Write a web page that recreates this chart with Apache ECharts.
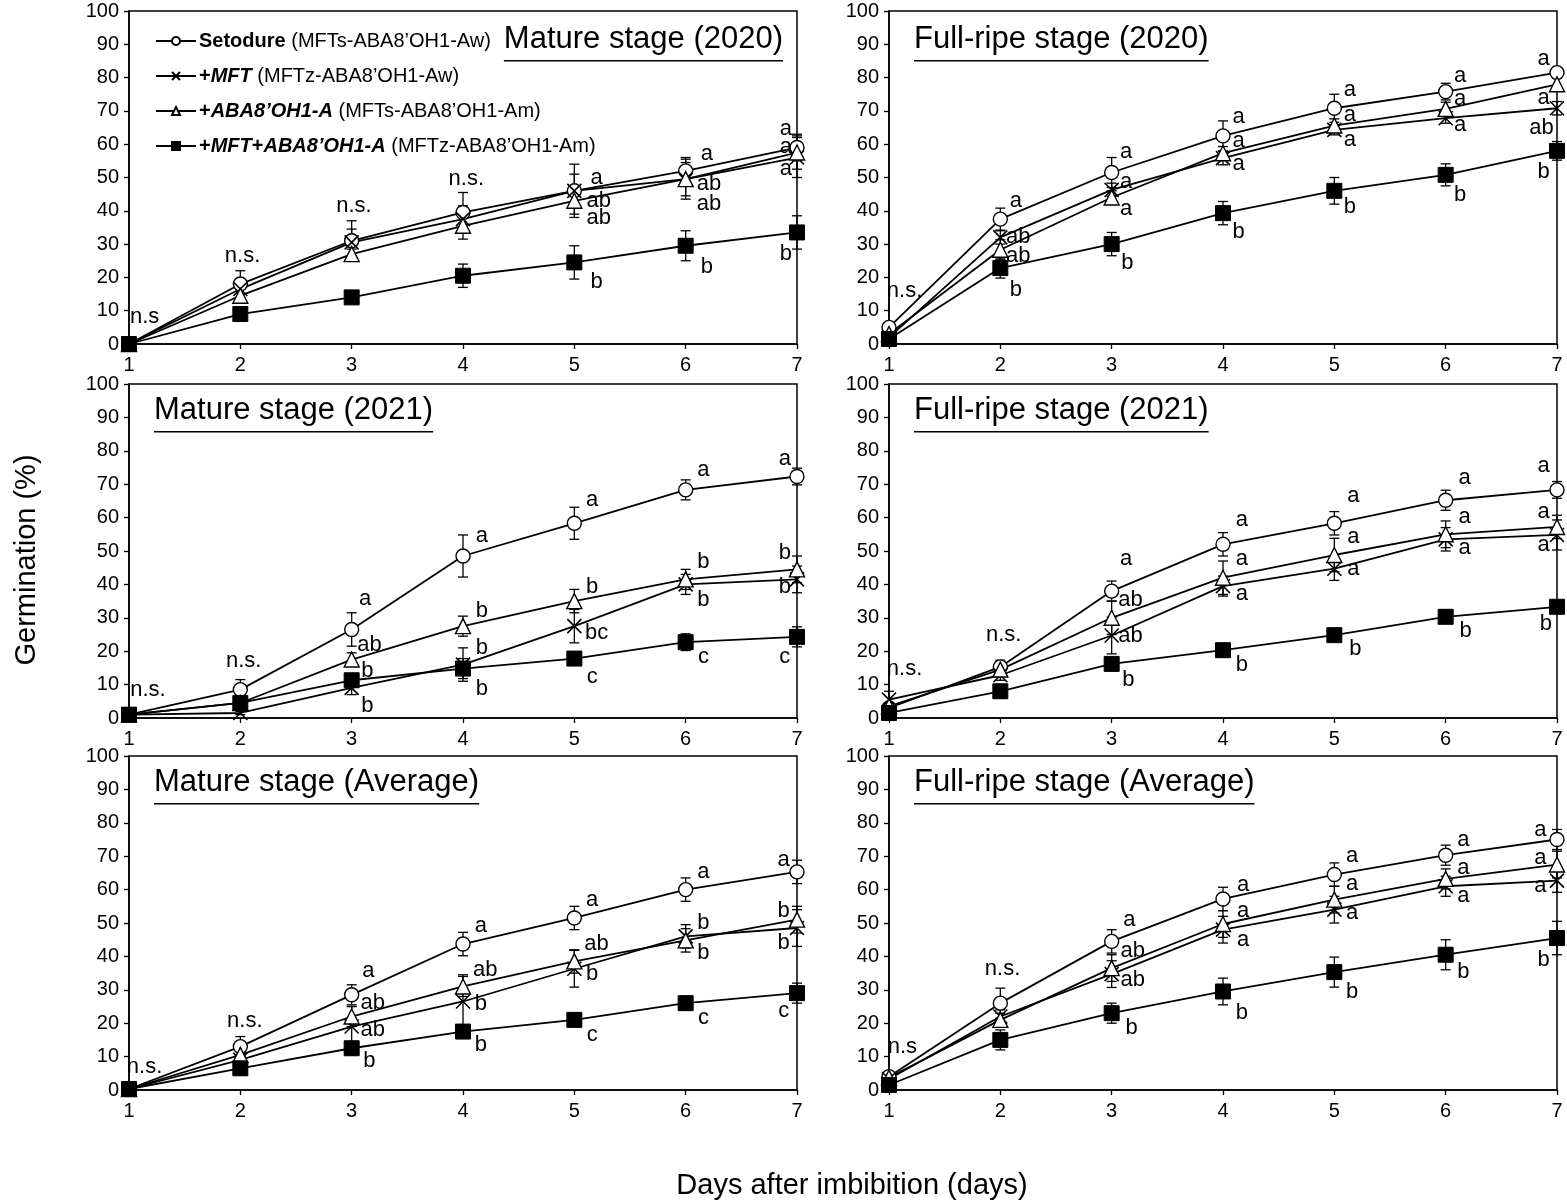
<!DOCTYPE html>
<html><head><meta charset="utf-8">
<script src="https://cdn.jsdelivr.net/npm/echarts@6/dist/echarts.min.js"></script>
<style>html,body{margin:0;padding:0;background:#fff}#c{width:1567px;height:1204px}</style>
</head><body><div id="c"></div>
<script>
// ---------------- DATA ----------------
const days = [1, 2, 3, 4, 5, 6, 7];
const seriesNames = ['Setodure', '+MFT', '+ABA8’OH1-A', '+MFT+ABA8’OH1-A'];
const legendLabels = {
  'Setodure': '{b|Setodure} {n|(MFTs-ABA8’OH1-Aw)}',
  '+MFT': '{b|+}{bi|MFT} {n|(MFTz-ABA8’OH1-Aw)}',
  '+ABA8’OH1-A': '{b|+}{bi|ABA8’OH1-A} {n|(MFTs-ABA8’OH1-Am)}',
  '+MFT+ABA8’OH1-A': '{b|+}{bi|MFT}{b|+}{bi|ABA8’OH1-A} {n|(MFTz-ABA8’OH1-Am)}'
};
const panelTitles = ['Mature stage (2020)', 'Full-ripe stage (2020)', 'Mature stage (2021)',
  'Full-ripe stage (2021)', 'Mature stage (Average)', 'Full-ripe stage (Average)'];
const xAxisTitle = 'Days after imbibition (days)';
const yAxisTitle = 'Germination (%)';

// Mature stage (2020)
const m20_seto = [0, 18, 31, 39.5, 46, 52, 59];
const m20_seto_err = [0, 4, 6, 6, 8, 4, 4];
const m20_mft = [0, 16.5, 30.5, 37.5, 46, 49.5, 56];
const m20_mft_err = [0, 3, 4, 4, 5, 5, 6];
const m20_aba = [0, 14.5, 27, 35.5, 43, 49.5, 57.5];
const m20_aba_err = [0, 2, 1.5, 4, 4, 6, 5];
const m20_both = [0, 9, 14, 20.5, 24.5, 29.5, 33.5];
const m20_both_err = [0, 1, 1, 3.5, 5, 4.5, 5];
const m20_ann = [[1.14, 8, 'n.s'], [2.02, 26.5, 'n.s.'], [3.02, 41.5, 'n.s.'], [4.03, 49.5, 'n.s.'],
  [5.2, 50, 'a'], [5.22, 43, 'ab'], [5.22, 38, 'ab'], [5.2, 18.5, 'b'],
  [6.19, 57, 'a'], [6.21, 48, 'ab'], [6.21, 42, 'ab'], [6.19, 23, 'b'],
  [6.9, 64.7, 'a'], [6.9, 59.3, 'a'], [6.9, 52.5, 'a'], [6.9, 27, 'b']];

// Full-ripe stage (2020)
const f20_seto = [5, 37.5, 51.5, 62.5, 70.8, 75.8, 81.5];
const f20_seto_err = [1, 3.3, 4.5, 4.5, 4.2, 2.5, 1.5];
const f20_mft = [2, 32, 46.3, 55.8, 64.3, 67.8, 70.8];
const f20_mft_err = [1, 2, 2, 2, 1.5, 1.5, 2];
const f20_aba = [3, 28.3, 44, 57.3, 65.6, 70.6, 78];
const f20_aba_err = [1, 3, 2, 2, 2, 2, 2];
const f20_both = [1.5, 22.8, 30, 39.3, 46, 50.8, 58];
const f20_both_err = [1, 3, 3.5, 3.5, 4, 3.3, 2.8];
const f20_ann = [[1.14, 16, 'n.s.'],
  [2.14, 43, 'a'], [2.16, 32.3, 'ab'], [2.16, 26.3, 'ab'], [2.14, 16.3, 'b'],
  [3.13, 57.6, 'a'], [3.13, 48.8, 'a'], [3.13, 40.6, 'a'], [3.14, 24.3, 'b'],
  [4.14, 68.3, 'a'], [4.14, 61, 'a'], [4.14, 54.1, 'a'], [4.14, 33.8, 'b'],
  [5.14, 76.3, 'a'], [5.14, 68.8, 'a'], [5.14, 61.3, 'a'], [5.14, 41.3, 'b'],
  [6.13, 80.6, 'a'], [6.13, 73.6, 'a'], [6.13, 65.8, 'a'], [6.13, 44.8, 'b'],
  [6.88, 85.6, 'a'], [6.88, 73.8, 'a'], [6.86, 64.8, 'ab'], [6.88, 51.8, 'b']];

// Mature stage (2021)
const m21_seto = [1, 8.5, 26.5, 48.5, 58.3, 68.3, 72.3];
const m21_seto_err = [0.5, 3, 5, 6.3, 4.8, 3, 2.5];
const m21_mft = [1, 1.5, 9, 16, 27.5, 40, 41.5];
const m21_mft_err = [0.5, 0.5, 2, 5, 5, 3, 4];
const m21_aba = [1, 4.5, 17.5, 27.5, 35, 41.5, 44.5];
const m21_aba_err = [0.5, 1, 2, 3, 3.5, 3, 4];
const m21_both = [1, 4.5, 11.3, 14.8, 17.8, 22.7, 24.3];
const m21_both_err = [0.5, 2, 1.5, 3, 1, 2.5, 3];
const m21_ann = [[1.17, 8.5, 'n.s.'], [2.03, 17, 'n.s.'],
  [3.12, 35.5, 'a'], [3.16, 22, 'ab'], [3.14, 14, 'b'], [3.14, 3.5, 'b'],
  [4.17, 54.4, 'a'], [4.17, 32, 'b'], [4.17, 21, 'b'], [4.17, 8.7, 'b'],
  [5.16, 65.2, 'a'], [5.16, 39.2, 'b'], [5.2, 25.4, 'bc'], [5.16, 12.2, 'c'],
  [6.16, 74.4, 'a'], [6.16, 46.7, 'b'], [6.16, 35.4, 'b'], [6.16, 18.2, 'c'],
  [6.89, 77.7, 'a'], [6.89, 49.4, 'b'], [6.89, 39.2, 'b'], [6.89, 18.2, 'c']];

// Full-ripe stage (2021)
const f21_seto = [3, 15.3, 38, 52, 58.3, 65.2, 68.3];
const f21_seto_err = [1, 2, 3, 3.5, 3.5, 3, 2.5];
const f21_mft = [5.5, 12.8, 24.7, 39.5, 44.7, 53.5, 54.8];
const f21_mft_err = [2.5, 1.5, 5.5, 3, 3.5, 3.5, 4.5];
const f21_aba = [3.5, 14.5, 30, 42, 48.8, 55, 57.2];
const f21_aba_err = [1, 1.5, 5, 5, 5, 4, 3.5];
const f21_both = [1.5, 8, 16.2, 20.3, 24.8, 30.3, 33.3];
const f21_both_err = [0.5, 1, 1, 1, 1, 1, 1];
const f21_ann = [[1.14, 14.7, 'n.s.'], [2.03, 25, 'n.s.'],
  [3.13, 47.5, 'a'], [3.17, 35.2, 'ab'], [3.17, 24.7, 'ab'], [3.15, 11.5, 'b'],
  [4.17, 59.3, 'a'], [4.17, 47.7, 'a'], [4.17, 37, 'a'], [4.17, 16, 'b'],
  [5.17, 66.5, 'a'], [5.17, 54.3, 'a'], [5.17, 44.5, 'a'], [5.19, 20.7, 'b'],
  [6.17, 72, 'a'], [6.17, 60.3, 'a'], [6.17, 50.8, 'a'], [6.18, 26, 'b'],
  [6.88, 75.5, 'a'], [6.88, 61.8, 'a'], [6.88, 51.7, 'a'], [6.9, 28.2, 'b']];

// Mature stage (Average)
const ma_seto = [0.3, 13, 28.5, 43.7, 51.5, 60, 65.3];
const ma_seto_err = [0.3, 3, 3, 3.5, 3.5, 3.5, 3.5];
const ma_mft = [0.3, 9, 19, 26.5, 36.3, 46, 48.5];
const ma_mft_err = [0.3, 1, 6, 8, 5.5, 3.5, 5.5];
const ma_aba = [0.3, 10.5, 22, 31, 38.5, 44.8, 51];
const ma_aba_err = [0.3, 1, 3, 3, 3.5, 3.5, 4];
const ma_both = [0.3, 6.5, 12.5, 17.5, 21, 26, 29];
const ma_both_err = [0.3, 1, 2, 2, 2, 2, 3];
const ma_ann = [[1.14, 7, 'n.s.'], [2.04, 20.7, 'n.s.'],
  [3.15, 35.5, 'a'], [3.19, 26, 'ab'], [3.19, 18, 'ab'], [3.16, 8.7, 'b'],
  [4.16, 49.2, 'a'], [4.2, 36, 'ab'], [4.16, 25.7, 'b'], [4.16, 13.5, 'b'],
  [5.16, 57, 'a'], [5.2, 43.7, 'ab'], [5.16, 34.7, 'b'], [5.16, 16.5, 'c'],
  [6.16, 65.2, 'a'], [6.16, 50, 'b'], [6.16, 41, 'b'], [6.16, 21.5, 'c'],
  [6.88, 68.8, 'a'], [6.88, 53.5, 'b'], [6.88, 44, 'b'], [6.88, 23.7, 'c']];

// Full-ripe stage (Average)
const fa_seto = [4, 26, 44.5, 57.2, 64.5, 70.3, 75];
const fa_seto_err = [1, 4.5, 3.5, 3.5, 3.5, 3, 3];
const fa_mft = [3.3, 22, 34.7, 48, 54, 61, 62.7];
const fa_mft_err = [1, 2, 4, 4, 4, 3, 3.5];
const fa_aba = [3.7, 21, 36.5, 49.7, 57, 63.2, 67.5];
const fa_aba_err = [1, 2, 4, 4, 4, 3, 4];
const fa_both = [1.5, 15, 23, 29.5, 35.3, 40.5, 45.5];
const fa_both_err = [0.5, 3, 3, 4, 4.5, 4.5, 5];
const fa_ann = [[1.12, 13, 'n.s'], [2.02, 36.2, 'n.s.'],
  [3.16, 51, 'a'], [3.19, 41.7, 'ab'], [3.19, 33, 'ab'], [3.18, 18.5, 'b'],
  [4.18, 61.5, 'a'], [4.18, 53.5, 'a'], [4.18, 44.8, 'a'], [4.17, 23, 'b'],
  [5.16, 70, 'a'], [5.16, 61.7, 'a'], [5.16, 53, 'a'], [5.16, 29.5, 'b'],
  [6.16, 74.8, 'a'], [6.16, 66.5, 'a'], [6.16, 58, 'a'], [6.16, 35.3, 'b'],
  [6.85, 78, 'a'], [6.85, 69.5, 'a'], [6.85, 61, 'a'], [6.88, 39, 'b']];

const panels = [
  { title: panelTitles[0], vals: [m20_seto, m20_mft, m20_aba, m20_both], errs: [m20_seto_err, m20_mft_err, m20_aba_err, m20_both_err], ann: m20_ann },
  { title: panelTitles[1], vals: [f20_seto, f20_mft, f20_aba, f20_both], errs: [f20_seto_err, f20_mft_err, f20_aba_err, f20_both_err], ann: f20_ann },
  { title: panelTitles[2], vals: [m21_seto, m21_mft, m21_aba, m21_both], errs: [m21_seto_err, m21_mft_err, m21_aba_err, m21_both_err], ann: m21_ann },
  { title: panelTitles[3], vals: [f21_seto, f21_mft, f21_aba, f21_both], errs: [f21_seto_err, f21_mft_err, f21_aba_err, f21_both_err], ann: f21_ann },
  { title: panelTitles[4], vals: [ma_seto, ma_mft, ma_aba, ma_both], errs: [ma_seto_err, ma_mft_err, ma_aba_err, ma_both_err], ann: ma_ann },
  { title: panelTitles[5], vals: [fa_seto, fa_mft, fa_aba, fa_both], errs: [fa_seto_err, fa_mft_err, fa_aba_err, fa_both_err], ann: fa_ann }
];

// ---------------- LAYOUT / STYLE ----------------
const FONT = '"Liberation Sans", Arial, Helvetica, sans-serif';
const colLeft = [129, 889];
const rowTop = [11, 384, 756];
const rowH = [333, 334, 334];
const plotW = 668;

const symbols = [
  { symbol: 'circle', symbolSize: 14, itemStyle: { color: '#fff', borderColor: '#000', borderWidth: 1.4 } },
  { symbol: 'path://M0,0L10,10M10,0L0,10', symbolSize: 14, itemStyle: { color: '#000', borderColor: '#000', borderWidth: 1.6 } },
  { symbol: 'triangle', symbolSize: 15, itemStyle: { color: '#fff', borderColor: '#000', borderWidth: 1.4 } },
  { symbol: 'rect', symbolSize: 15, itemStyle: { color: '#000', borderColor: '#000', borderWidth: 1 } }
];

const grids = [], xAxes = [], yAxes = [], series = [], graphics = [];
const mctx = document.createElement('canvas').getContext('2d');
function textWidth(t, font) { mctx.font = font; return mctx.measureText(t).width; }

panels.forEach((p, i) => {
  const col = i % 2, row = Math.floor(i / 2);
  const left = colLeft[col], top = rowTop[row], h = rowH[row];
  grids.push({ left: left, top: top, width: plotW, height: h, show: true, borderColor: '#000', borderWidth: 1.5, backgroundColor: 'transparent' });
  xAxes.push({
    gridIndex: i, type: 'value', min: 1, max: 7, interval: 1,
    axisLine: { onZero: false, lineStyle: { color: '#000', width: 1.5 } },
    axisTick: { show: true, inside: false, length: 5, lineStyle: { color: '#000', width: 1.3 } },
    axisLabel: { color: '#000', fontSize: 20, fontFamily: FONT, margin: 11 },
    splitLine: { show: false }
  });
  yAxes.push({
    gridIndex: i, type: 'value', min: 0, max: 100, interval: 10,
    axisLine: { show: true, lineStyle: { color: '#000', width: 1.5 } },
    axisTick: { show: true, inside: false, length: 5, lineStyle: { color: '#000', width: 1.3 } },
    axisLabel: { color: '#000', fontSize: 20, fontFamily: FONT, margin: 10 },
    splitLine: { show: false }
  });
  // error bars
  p.vals.forEach((vals, k) => {
    const errs = p.errs[k];
    series.push({
      type: 'custom', xAxisIndex: i, yAxisIndex: i, z: 1, silent: true,
      data: days.map((d, j) => [d, vals[j], errs[j]]),
      renderItem: function (params, api) {
        const x = api.value(0), y = api.value(1), e = api.value(2);
        if (!e) return null;
        const t = api.coord([x, Math.min(100, y + e)]);
        const b = api.coord([x, Math.max(0, y - e)]);
        const w = 5;
        const st = { stroke: '#000', lineWidth: 1.3 };
        return { type: 'group', children: [
          { type: 'line', shape: { x1: t[0], y1: t[1], x2: b[0], y2: b[1] }, style: st },
          { type: 'line', shape: { x1: t[0] - w, y1: t[1], x2: t[0] + w, y2: t[1] }, style: st },
          { type: 'line', shape: { x1: b[0] - w, y1: b[1], x2: b[0] + w, y2: b[1] }, style: st }
        ] };
      }
    });
  });
  // lines with markers
  p.vals.forEach((vals, k) => {
    series.push(Object.assign({
      name: seriesNames[k], type: 'line', xAxisIndex: i, yAxisIndex: i, z: 3,
      data: days.map((d, j) => [d, vals[j]]),
      lineStyle: { color: '#000', width: 1.8 },
      showSymbol: true, animation: false, silent: true
    }, JSON.parse(JSON.stringify(symbols[k]))));
  });
  // significance letters (placed in data coordinates)
  series.push({
    type: 'custom', xAxisIndex: i, yAxisIndex: i, z: 6, silent: true, clip: false,
    data: p.ann.map(a => [a[0], a[1], a[2]]),
    dimensions: ['x', 'y', { name: 't', type: 'ordinal' }],
    renderItem: function (params, api) {
      const c = api.coord([api.value(0), api.value(1)]);
      const txt = p.ann[params.dataIndex][2];
      return { type: 'text', x: c[0], y: c[1], style: { text: txt, fill: '#000', font: '22px ' + FONT, align: 'center', verticalAlign: 'middle' } };
    }
  });
  // panel title with underline
  const tFont = '31px ' + FONT;
  const tw = textWidth(p.title, tFont);
  let tx = left + 25;
  if (i === 0) tx = left + plotW - 14 - tw;
  const ty = top + (row === 0 ? 31 : 29);
  graphics.push({ type: 'text', left: tx, top: ty - 18, style: { text: p.title, font: tFont, fill: '#000' }, z: 10 });
  graphics.push({ type: 'rect', shape: { x: tx, y: ty + 18, width: tw, height: 1.5 }, style: { fill: '#000' }, z: 10 });
});

graphics.push({ type: 'text', x: 852, y: 1186, style: { text: xAxisTitle, font: '29px ' + FONT, fill: '#000', align: 'center', verticalAlign: 'middle' } });
graphics.push({ type: 'text', x: 27, y: 560, rotation: Math.PI / 2, style: { text: yAxisTitle, font: '29px ' + FONT, fill: '#000', align: 'center', verticalAlign: 'middle' } });

const chart = echarts.init(document.getElementById('c'), null, { renderer: 'canvas' });
chart.setOption({
  animation: false,
  backgroundColor: '#fff',
  grid: grids, xAxis: xAxes, yAxis: yAxes, series: series,
  legend: {
    data: seriesNames, orient: 'vertical', left: 150, top: 26,
    itemWidth: 40, itemHeight: 10, itemGap: 15, selectedMode: false,
    formatter: n => legendLabels[n],
    textStyle: {
      color: '#000', fontSize: 20, fontFamily: FONT, padding: [0, 0, 0, -2],
      rich: {
        b: { fontSize: 20, fontWeight: 'bold', fontFamily: FONT, color: '#000' },
        bi: { fontSize: 20, fontWeight: 'bold', fontStyle: 'italic', fontFamily: FONT, color: '#000' },
        n: { fontSize: 20, fontFamily: FONT, color: '#000' }
      }
    }
  },
  graphic: graphics
});
</script></body></html>
